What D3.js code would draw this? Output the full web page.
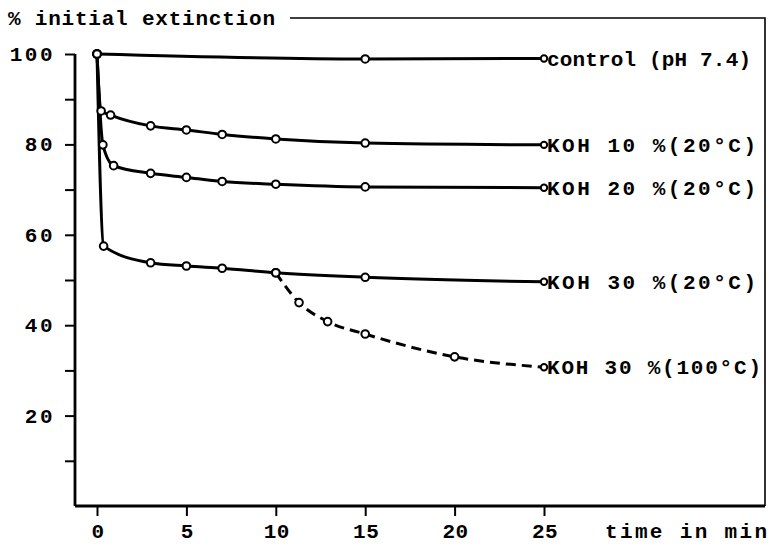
<!DOCTYPE html>
<html><head><meta charset="utf-8">
<script src="https://cdn.jsdelivr.net/npm/d3@7"></script>
<style>body{margin:0;background:#fff}svg{display:block}</style>
</head><body>
<svg id="c" width="774" height="546"></svg>
<script>
const xTicks = [0, 5, 10, 15, 20, 25];
const yTicks = [10, 20, 30, 40, 50, 60, 70, 80, 90, 100];
const yLabels = [20, 40, 60, 80, 100];

const controlT = [0, 15, 25];
const controlV = [100, 98.9, 99];
const koh10T = [0, 0.23, 0.76, 3, 5, 7, 10, 15, 25];
const koh10V = [100, 87.4, 86.5, 84.1, 83.2, 82.2, 81.2, 80.3, 79.9];
const koh20T = [0, 0.33, 0.93, 3, 5, 7, 10, 15, 25];
const koh20V = [100, 79.9, 75.3, 73.6, 72.7, 71.8, 71.2, 70.6, 70.4];
const koh30T = [0, 0.37, 3, 5, 7, 10, 15, 25];
const koh30V = [100, 57.5, 53.8, 53.1, 52.6, 51.6, 50.6, 49.6];
const koh30hT = [10, 11.3, 12.9, 15, 20, 25];
const koh30hV = [51.6, 45.0, 40.8, 38.05, 33.0, 30.7];

const seriesNames = ["control (pH 7.4)", "KOH  10 %(20°C)", "KOH  20 %(20°C)", "KOH  30 %(20°C)", "KOH  30 %(100°C)"];

const svg = d3.select("#c");
const x = d3.scaleLinear().domain([0, 25]).range([97, 544]);
const y = d3.scaleLinear().domain([0, 100]).range([506, 54]);
const font = "'Liberation Mono', 'DejaVu Sans Mono', monospace";

// frame
svg.append("path").attr("d", "M290,18H765V506").attr("fill", "none").attr("stroke", "#000").attr("stroke-width", 1.6);

// axes
const yAxis = svg.append("g").attr("transform", "translate(75,0)")
  .call(d3.axisLeft(y).tickValues(yTicks).tickSize(10).tickFormat(""));
yAxis.select(".domain").attr("d", "M0," + y(100) + "V" + y(0)).attr("stroke-width", 2.8);
yAxis.selectAll(".tick line").attr("stroke-width", 2);

const xAxis = svg.append("g").attr("transform", "translate(0,506)")
  .call(d3.axisBottom(x).tickValues(xTicks).tickSize(10).tickFormat(""));
xAxis.select(".domain").attr("d", "M75,0H765").attr("stroke-width", 2.8);
xAxis.selectAll(".tick line").attr("stroke-width", 2);

// tick labels
svg.selectAll(".yl").data(yLabels).enter().append("text")
  .attr("x", 55).attr("y", d => y(d) + 7).attr("text-anchor", "end")
  .attr("font-family", font).attr("font-weight", "bold").attr("font-size", 21)
  .attr("letter-spacing", 2.5).text(d => d);
svg.selectAll(".xl").data(xTicks).enter().append("text")
  .attr("x", d => x(d) + 1).attr("y", 538).attr("text-anchor", "middle")
  .attr("font-family", font).attr("font-weight", "bold").attr("font-size", 21)
  .attr("letter-spacing", 0.5).text(d => d);

svg.append("text").attr("x", 8).attr("y", 25).attr("font-family", font).attr("font-weight", "bold")
  .attr("font-size", 21).attr("textLength", 267).attr("lengthAdjust", "spacing").text("% initial extinction");
svg.append("text").attr("x", 605).attr("y", 538).attr("font-family", font).attr("font-weight", "bold")
  .attr("font-size", 21).attr("textLength", 162).attr("lengthAdjust", "spacing").text("time in min");

// series
const series = [
  {t: controlT, v: controlV, dash: null},
  {t: koh10T, v: koh10V, dash: null},
  {t: koh20T, v: koh20V, dash: null},
  {t: koh30T, v: koh30V, dash: null},
  {t: koh30hT, v: koh30hV, dash: "10,6"}
];
const line = d3.line().x(d => x(d[0])).y(d => y(d[1])).curve(d3.curveMonotoneX);
series.forEach(s => {
  const pts = s.t.map((t, i) => [t, s.v[i]]);
  svg.append("path").attr("d", line(pts)).attr("fill", "none").attr("stroke", "#000")
    .attr("stroke-width", 3).attr("stroke-dasharray", s.dash);
});
series.forEach(s => {
  const pts = s.t.map((t, i) => [t, s.v[i]]);
  svg.append("g").selectAll("circle").data(pts).enter().append("circle")
    .attr("cx", d => x(d[0])).attr("cy", d => y(d[1]))
    .attr("r", (d, i) => i === pts.length - 1 ? 3.2 : 3.8)
    .attr("fill", "#fff").attr("stroke", "#000").attr("stroke-width", 2);
});

// series labels
const labelW = [204, 209, 209, 209, 214];
series.forEach((s, i) => {
  const last = s.v[s.v.length - 1];
  svg.append("text").attr("x", 547).attr("y", y(last) + 7)
    .attr("font-family", font).attr("font-weight", "bold").attr("font-size", 21)
    .attr("textLength", labelW[i]).attr("lengthAdjust", "spacing").text(seriesNames[i]);
});
</script>
</body></html>
